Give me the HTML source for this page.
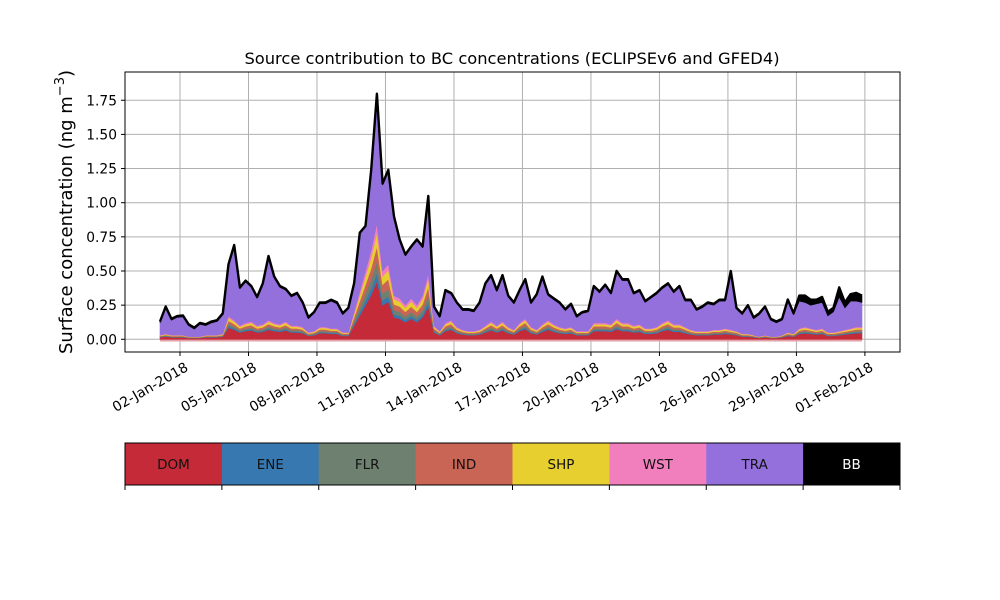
<!DOCTYPE html>
<html><head><meta charset="utf-8"><style>
body{margin:0;background:#fff;}
svg{display:block;font-family:"DejaVu Sans","Liberation Sans",sans-serif;}
</style></head><body>
<svg id="chart" width="1000" height="600" viewBox="0 0 1000 600" xmlns="http://www.w3.org/2000/svg">
<rect width="1000" height="600" fill="#fff"/>
<g id="grid"></g>
<g id="areas"></g>
<rect x="125" y="72" width="775" height="280" fill="none" stroke="#000" stroke-width="1"/>
<g id="yticks"></g>
<g id="xticks"></g>
<text x="512" y="64" text-anchor="middle" font-size="16.3">Source contribution to BC concentrations (ECLIPSEv6 and GFED4)</text>
<text transform="translate(72,212) rotate(-90)" text-anchor="middle" font-size="18">Surface concentration (ng m<tspan dy="-8" font-size="13">−3</tspan><tspan dy="8">)</tspan></text>
<g id="legend"></g>
</svg>
<script>
const sourceNames=["DOM","ENE","FLR","IND","SHP","WST","TRA","BB"];
const sourceColors=["#c42a38","#3878b0","#6e8070","#c86554","#e6cf2e","#f27fbd","#9370db","#000000"];
const startDay=0.125, stepDay=0.25;
const xTickDays=[1,4,7,10,13,16,19,22,25,28,31];
const xTickLabels=["02-Jan-2018","05-Jan-2018","08-Jan-2018","11-Jan-2018","14-Jan-2018","17-Jan-2018","20-Jan-2018","23-Jan-2018","26-Jan-2018","29-Jan-2018","01-Feb-2018"];
const yTicks=[0,0.25,0.5,0.75,1.0,1.25,1.5,1.75];
const yTickLabels=["0.00","0.25","0.50","0.75","1.00","1.25","1.50","1.75"];
const DOM=[.015,.02,.015,.015,.015,.01,.01,.01,.015,.015,.015,.02,
.085,.07,.05,.06,.065,.05,.055,.07,.06,.055,.065,.05,.05,.045,
.025,.03,.045,.045,.04,.04,.025,.025,
.10,.175,.25,.325,.425,.25,.275,.16,.15,.125,.15,.125,.16,.24,
.05,.03,.06,.07,.045,.035,.03,.03,.035,.05,.065,.05,.065,.045,.035,
.06,.075,.045,.035,.055,.07,.055,.045,.04,.045,
.03,.03,.03,.06,.06,.06,.055,.075,.06,.06,
.05,.055,.04,.04,.045,.06,.07,.055,.055,.045,
.035,.03,.03,.03,.035,.035,.04,.035,.03,.02,
.02,.015,.01,.015,.01,.01,.015,
.025,.02,.04,.045,.04,.035,.04,.025,.025,.03,.035,.04,.045,.045];
const ENE=[.002,.003,.002,.002,.002,.001,.001,.001,.002,.002,.002,.003,
.012,.01,.007,.008,.009,.007,.008,.01,.008,.008,.009,.007,.007,.006,
.004,.004,.006,.006,.006,.006,.004,.004,
.014,.025,.035,.046,.06,.035,.039,.022,.021,.018,.021,.018,.022,.034,
.007,.004,.008,.01,.006,.005,.004,.004,.005,.007,.009,.007,.009,.006,.005,
.008,.011,.006,.005,.008,.01,.008,.006,.006,.006,
.004,.004,.004,.008,.008,.008,.008,.011,.008,.008,
.007,.008,.006,.006,.006,.008,.01,.008,.008,.006,
.005,.004,.004,.004,.005,.005,.006,.005,.004,.003,
.003,.002,.001,.002,.001,.001,.002,
.004,.003,.006,.006,.006,.005,.006,.004,.004,.004,.005,.006,.006,.006];
const FLR=[.003,.004,.003,.003,.003,.002,.002,.002,.003,.003,.003,.004,
.017,.014,.01,.012,.013,.01,.011,.014,.012,.011,.013,.01,.01,.009,
.005,.006,.009,.009,.008,.008,.005,.005,
.02,.035,.05,.065,.085,.05,.055,.032,.03,.025,.03,.025,.032,.048,
.01,.006,.012,.014,.009,.007,.006,.006,.007,.01,.013,.01,.013,.009,.007,
.012,.015,.009,.007,.011,.014,.011,.009,.008,.009,
.006,.006,.006,.012,.012,.012,.011,.015,.012,.012,
.01,.011,.008,.008,.009,.012,.014,.011,.011,.009,
.007,.006,.006,.006,.007,.007,.008,.007,.006,.004,
.004,.003,.002,.003,.002,.002,.003,
.005,.004,.008,.009,.008,.007,.008,.005,.005,.006,.007,.008,.009,.009];
const IND=[.004,.005,.004,.004,.004,.003,.003,.003,.004,.004,.004,.005,
.022,.018,.013,.016,.017,.013,.014,.018,.016,.014,.017,.013,.013,.012,
.007,.008,.012,.012,.01,.01,.007,.007,
.026,.046,.065,.085,.11,.065,.072,.042,.039,.033,.039,.033,.042,.062,
.013,.008,.016,.018,.012,.009,.008,.008,.009,.013,.017,.013,.017,.012,.009,
.016,.02,.012,.009,.014,.018,.014,.012,.01,.012,
.008,.008,.008,.016,.016,.016,.014,.02,.016,.016,
.013,.014,.01,.01,.012,.016,.018,.014,.014,.012,
.009,.008,.008,.008,.009,.009,.01,.009,.008,.005,
.005,.004,.003,.004,.003,.003,.004,
.007,.005,.01,.012,.01,.009,.01,.007,.007,.008,.009,.01,.012,.012];
const SHP=[.004,.005,.004,.004,.004,.002,.002,.002,.004,.004,.004,.005,
.02,.017,.012,.014,.016,.012,.013,.017,.014,.013,.016,.012,.012,.011,
.006,.007,.011,.011,.01,.01,.006,.006,
.024,.042,.06,.078,.10,.06,.066,.038,.036,.03,.036,.03,.038,.058,
.012,.007,.014,.017,.011,.008,.007,.007,.008,.012,.016,.012,.016,.011,.008,
.014,.018,.011,.008,.013,.017,.013,.011,.01,.011,
.007,.007,.007,.014,.014,.014,.013,.018,.014,.014,
.012,.013,.01,.01,.011,.014,.017,.013,.013,.011,
.008,.007,.007,.007,.008,.008,.01,.008,.007,.005,
.005,.004,.002,.004,.002,.002,.004,
.006,.005,.01,.011,.01,.008,.01,.006,.006,.007,.008,.01,.011,.011];
const WST=[.002,.003,.002,.002,.002,.002,.002,.002,.002,.002,.002,.003,
.014,.011,.008,.01,.01,.008,.009,.011,.01,.009,.01,.008,.008,.007,
.004,.005,.007,.007,.006,.006,.004,.004,
.016,.028,.04,.052,.068,.04,.044,.026,.024,.02,.024,.02,.026,.038,
.008,.005,.01,.011,.007,.006,.005,.005,.006,.008,.01,.008,.01,.007,.006,
.01,.012,.007,.006,.009,.011,.009,.007,.006,.007,
.005,.005,.005,.01,.01,.01,.009,.012,.01,.01,
.008,.009,.006,.006,.007,.01,.011,.009,.009,.007,
.006,.005,.005,.005,.006,.006,.006,.006,.005,.003,
.003,.002,.002,.002,.002,.002,.002,
.004,.003,.006,.007,.006,.006,.006,.004,.004,.005,.006,.006,.007,.007];
const TRA=[.09,.19,.11,.13,.135,.08,.055,.09,.07,.09,.10,.14,
.37,.54,.27,.30,.25,.20,.29,.46,.33,.27,.23,.21,.23,.17,
.10,.13,.17,.17,.20,.18,.13,.17,
.20,.42,.32,.58,.94,.63,.68,.57,.42,.36,.37,.47,.35,.56,
.13,.10,.23,.19,.17,.14,.15,.14,.19,.30,.33,.25,.33,.22,.19,
.23,.28,.17,.25,.34,.18,.18,.17,.13,.16,
.10,.13,.14,.26,.22,.27,.22,.34,.31,.31,
.23,.24,.19,.22,.24,.25,.26,.23,.27,.19,
.21,.15,.17,.20,.18,.21,.20,.42,.16,.14,
.20,.12,.16,.20,.12,.10,.11,
.23,.14,.20,.18,.17,.19,.19,.12,.15,.25,.16,.20,.19,.18];
const BB=[.01,.01,.01,.01,.01,.01,.01,.01,.01,.01,.01,.01,
.01,.01,.01,.01,.01,.01,.01,.01,.01,.01,.01,.01,.01,.01,
.01,.01,.01,.01,.01,.01,.01,.01,
.01,.01,.01,.01,.01,.01,.01,.01,.01,.01,.01,.01,.01,.01,
.01,.01,.01,.01,.01,.01,.01,.01,.01,.01,.01,.01,.01,.01,.01,
.01,.01,.01,.01,.01,.01,.01,.01,.01,.01,
.01,.01,.01,.01,.01,.01,.01,.01,.01,.01,
.01,.01,.01,.01,.01,.01,.01,.01,.01,.01,
.01,.01,.01,.01,.01,.01,.01,.01,.01,.01,
.01,.01,.01,.01,.01,.01,.01,
.01,.01,.04,.05,.04,.03,.04,.03,.03,.07,.04,.05,.06,.05];

const NS="http://www.w3.org/2000/svg";
function xScale(day){return 180+(day-1)*22.83;}
function yScale(v){return 339.3-v*136.6;}
function mk(tag,attrs,parent){const e=document.createElementNS(NS,tag);for(const k in attrs)e.setAttribute(k,attrs[k]);parent.appendChild(e);return e;}

const grid=document.getElementById('grid');
const yg=document.getElementById('yticks');
const xg=document.getElementById('xticks');
yTicks.forEach((v,i)=>{
  const y=yScale(v);
  const gl=mk('line',{x1:125,x2:900,y1:y,y2:y,stroke:'#b0b0b0','stroke-width':1},grid);
  
  
  const tk=mk('line',{x1:121,x2:125,y1:y,y2:y,stroke:'#000'},yg);
  
  
  const t=mk('text',{x:117,y:y+5,'text-anchor':'end','font-size':13.8},yg);
  t.textContent=yTickLabels[i];
  
  
});
xTickDays.forEach((d,i)=>{
  const x=xScale(d);
  const gl=mk('line',{x1:x,x2:x,y1:72,y2:352,stroke:'#b0b0b0','stroke-width':1},grid);
  
  
  const tk=mk('line',{x1:x,x2:x,y1:352,y2:356,stroke:'#000'},xg);
  
  
  const ax=x+4, ay=361;
  const t=mk('text',{x:ax,y:ay,'text-anchor':'end','font-size':13.8,transform:`rotate(-30 ${ax} ${ay})`},xg);
  t.setAttribute('dy','0.75em');
  t.textContent=xTickLabels[i];
  
  
});

const series=[DOM,ENE,FLR,IND,SHP,WST,TRA,BB];
const areas=document.getElementById('areas');
const n=DOM.length;
const xs=[];for(let i=0;i<n;i++)xs.push(xScale(startDay+i*stepDay));
const base=mk('rect',{x:xs[0],y:339,width:xs[n-1]-xs[0],height:2.5,fill:'#e3a2aa'},areas);


let lower=new Array(n).fill(0);
series.forEach((s,k)=>{
  const upper=lower.map((v,i)=>v+s[i]);
  let d='M'+xs.map((x,i)=>x.toFixed(1)+','+yScale(upper[i]).toFixed(1)).join('L');
  for(let i=n-1;i>=0;i--)d+='L'+xs[i].toFixed(1)+','+yScale(lower[i]).toFixed(1);
  d+='Z';
  const p=mk('path',{d:d,fill:sourceColors[k],stroke:sourceColors[k],'stroke-width':0.6,'stroke-linejoin':'round'},areas);
  
  
  if(k===series.length-1){
    const ld='M'+xs.map((x,i)=>x.toFixed(1)+','+yScale(upper[i]).toFixed(1)).join('L');
    const l=mk('path',{d:ld,fill:'none',stroke:'#000','stroke-width':2.4,'stroke-linejoin':'round'},areas);
    
    
  }
  lower=upper;
});

const lg=document.getElementById('legend');
const segW=775/sourceNames.length;
sourceNames.forEach((nm,k)=>{
  const x=125+k*segW;
  const r=mk('rect',{x:x,y:443,width:segW+0.5,height:42,fill:sourceColors[k]},lg);
  
  
  const t=mk('text',{x:x+segW/2,y:469,'text-anchor':'middle','font-size':13.5,fill:k===7?'#fff':'#111'},lg);
  t.textContent=nm;
  
  
});
for(let k=0;k<=sourceNames.length;k++){
  const x=125+k*segW;
  const tk=mk('line',{x1:x,x2:x,y1:485,y2:490,stroke:'#000'},lg);
  
  
}
const fr=mk('rect',{x:125,y:443,width:775,height:42,fill:'none',stroke:'#000','stroke-width':1},lg);


</script>
</body></html>
